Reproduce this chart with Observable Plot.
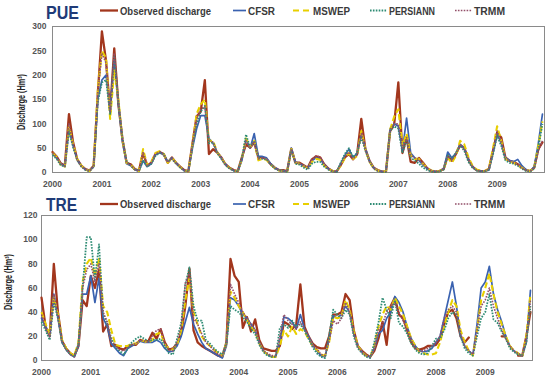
<!DOCTYPE html>
<html><head><meta charset="utf-8">
<script src="https://cdn.jsdelivr.net/npm/d3@7"></script>
<script src="https://cdn.jsdelivr.net/npm/@observablehq/plot@0.6"></script>
<style>
body{margin:0;background:#fff;}
#wrap{position:relative;width:550px;height:380px;overflow:hidden;background:#fff;}
.panel{position:absolute;left:0;width:550px;height:190px;}
#overlay{position:absolute;left:0;top:0;pointer-events:none;}
</style></head><body><div id="wrap"></div>
<script>
// ---- tick labels ----
const years = ["2000","2001","2002","2003","2004","2005","2006","2007","2008","2009"];
const pueTicks = [0, 50, 100, 150, 200, 250, 300];
const treTicks = [0, 20, 40, 60, 80, 100, 120];
const seriesNames = ["Observed discharge", "CFSR", "MSWEP", "PERSIANN", "TRMM"];
const panelTitles = ["PUE", "TRE"];
const yTitle = "Discharge (Hm³)";

// ---- PUE monthly discharge, Jan 2000 - Dec 2009 ----
const pueObserved = [
 42,33,19,14,120,62,27,14,7,4,14,160,
 290,230,125,255,140,68,20,17,7,4,40,14,
 20,38,42,38,20,31,20,12,5,3,60,115,
 125,190,38,48,41,31,17,10,5,3,31,58,
 51,62,31,31,27,17,10,5,5,3,49,20,
 20,15,10,27,33,31,17,8,3,2,15,31,
 38,27,38,110,48,24,10,5,2,2,85,100,
 185,40,72,22,20,30,20,9,3,2,3,7,
 34,24,38,56,51,27,12,5,3,3,7,45,
 82,72,31,24,22,17,10,5,3,10,48,62];
const pueCFSR = [
 38,30,18,13,88,55,27,14,6,3,12,150,
 190,200,130,230,140,62,18,14,6,3,24,12,
 18,36,42,36,22,30,20,11,4,2,50,90,
 117,117,70,60,42,30,17,9,4,2,25,68,
 50,80,33,33,30,18,10,5,4,2,50,22,
 18,14,9,24,30,28,16,8,3,2,18,35,
 48,30,40,78,50,24,10,4,2,2,90,100,
 95,45,112,40,30,25,15,8,4,2,3,8,
 42,30,40,58,50,28,12,5,3,3,5,40,
 80,60,30,25,22,27,14,6,2,12,60,120];
const pueMSWEP = [
 40,32,16,12,95,58,28,14,6,3,14,170,
 250,235,110,210,150,65,20,16,6,3,48,15,
 22,40,44,38,20,30,20,11,4,2,58,120,
 140,150,65,65,42,30,17,9,4,2,28,70,
 52,65,25,28,26,16,9,4,3,2,48,20,
 18,13,9,22,28,26,14,7,3,2,14,30,
 40,28,34,85,48,22,9,4,2,2,88,115,
 130,55,80,35,28,28,18,10,4,2,3,7,
 30,20,35,65,58,32,14,6,3,3,8,50,
 95,65,28,22,20,15,10,5,3,10,55,105];
const puePERSIANN = [
 36,28,15,12,85,52,25,12,5,3,12,145,
 185,190,120,240,145,70,22,14,6,3,25,12,
 18,34,40,38,22,28,18,10,4,2,55,100,
 125,137,60,62,40,28,15,8,4,2,30,78,
 52,65,30,28,27,16,8,4,3,2,46,18,
 16,10,6,18,22,22,12,6,2,1,20,38,
 50,32,40,72,45,22,8,3,1,1,85,95,
 90,40,68,30,25,18,10,5,2,1,2,6,
 35,28,40,55,45,22,10,4,2,2,6,38,
 75,55,25,20,18,14,8,3,2,8,50,100];
const pueTRMM = [
 40,31,17,13,100,58,27,13,6,3,13,165,
 245,225,125,245,145,66,20,15,6,3,42,14,
 20,38,42,37,21,30,19,11,4,2,58,110,
 130,135,65,62,42,30,16,9,4,2,28,65,
 50,64,28,30,28,17,9,4,3,2,48,20,
 18,14,9,26,34,32,16,8,3,2,16,32,
 42,28,36,80,48,23,9,4,2,2,88,100,
 100,50,72,35,30,27,18,9,4,2,3,7,
 33,25,38,58,48,28,12,5,3,3,7,45,
 85,62,28,24,20,16,10,5,3,10,45,65];

// ---- TRE monthly discharge, Jan 2000 - Dec 2009 ----
const treObserved = [
 52,28,20,80,40,16,10,6,4,12,50,45,
 70,60,75,24,30,12,13,10,9,12,13,13,
 17,16,16,23,18,26,15,9,10,14,22,45,
 76,25,15,12,10,8,6,4,3,15,84,70,
 65,27,36,24,34,17,10,9,8,8,12,32,
 30,26,30,63,28,20,14,11,10,10,20,38,
 38,40,55,50,25,12,8,5,3,8,18,32,
 13,45,52,38,35,25,15,10,9,10,12,12,
 13,18,30,40,42,35,20,15,19,null,null,null,
 null,null,null,null,20,20,null,null,4,4,20,40];
const treCFSR = [
 35,28,20,55,35,15,9,5,3,12,55,55,
 70,48,68,35,28,14,10,6,4,10,12,14,
 16,15,15,15,17,15,10,7,8,12,20,32,
 44,30,22,15,10,8,6,4,2,12,52,50,
 45,38,35,30,25,15,8,5,3,3,15,36,
 35,32,26,38,26,20,13,8,4,3,18,37,
 35,38,45,40,22,12,7,4,3,10,22,25,
 35,40,53,48,40,28,18,12,8,7,8,10,
 15,20,35,50,65,45,20,12,8,5,30,60,
 65,78,55,42,32,20,12,8,5,4,15,58];
const treMSWEP = [
 40,30,22,52,38,17,10,6,4,15,65,80,
 85,70,85,45,40,25,13,12,12,12,14,14,
 17,16,15,17,22,23,13,10,9,13,25,50,
 68,40,30,20,15,12,9,6,4,14,57,52,
 45,40,34,28,24,14,8,5,3,3,12,25,
 20,28,22,26,24,18,12,9,5,4,15,36,
 35,36,50,42,24,12,7,4,3,12,28,38,
 45,42,52,45,38,28,18,12,7,6,5,5,
 6,15,28,40,50,45,25,15,8,4,25,50,
 60,72,55,40,30,20,12,8,6,3,20,55];
const trePERSIANN = [
 32,25,17,48,35,15,9,5,3,14,60,102,
 102,67,96,39,30,18,11,8,5,10,15,18,
 20,18,16,17,17,18,12,6,5,18,31,63,
 77,45,33,33,17,14,10,7,5,14,45,42,
 40,36,32,26,22,13,7,4,3,3,27,30,
 27,33,28,30,25,18,11,6,3,2,20,42,
 38,35,42,38,20,10,6,3,2,15,31,52,
 42,35,50,31,28,22,14,9,6,5,6,12,
 18,18,25,35,40,38,20,10,6,4,20,35,
 40,55,34,31,24,18,10,7,5,4,15,45];
const treTRMM = [
 38,27,20,55,36,16,9,5,3,13,60,75,
 80,65,80,40,32,16,12,9,8,11,13,14,
 17,16,15,20,25,26,14,9,8,15,28,64,
 72,35,30,22,15,12,8,5,4,13,63,55,
 48,40,35,30,25,15,8,6,4,4,20,38,
 33,30,26,32,26,20,12,10,5,4,16,33,
 30,35,48,40,22,11,7,4,3,10,25,30,
 40,45,48,40,33,26,17,10,8,8,10,12,
 15,20,35,42,45,40,22,12,8,5,25,45,
 50,60,45,35,25,18,12,8,6,4,18,50];

// ---- styles ----
const styles = {
  "Observed discharge": {stroke: "#a2361d", strokeWidth: 2.3, dash: null},
  "CFSR": {stroke: "#3a62b0", strokeWidth: 1.7, dash: null},
  "MSWEP": {stroke: "#e8cf00", strokeWidth: 2.1, dash: "6,3"},
  "PERSIANN": {stroke: "#2f8c74", strokeWidth: 1.8, dash: "1.6,1.3"},
  "TRMM": {stroke: "#93506a", strokeWidth: 1.6, dash: "1.6,1.3"}
};

function rowsOf(arrays) {
  const rows = [];
  seriesNames.forEach((name, k) => {
    arrays[k].forEach((v, i) => rows.push({series: name, i, v}));
  });
  return rows;
}

const FONT = "'Liberation Sans', Arial, sans-serif";

function panel(arrays, cfg) {
  const rows = rowsOf(arrays);
  const marks = [Plot.frame({stroke: "#8a8a8a", strokeWidth: 1})];
  seriesNames.forEach(name => {
    const s = styles[name];
    marks.push(Plot.line(rows.filter(d => d.series === name), {
      x: "i", y: "v", stroke: s.stroke, strokeWidth: s.strokeWidth,
      strokeDasharray: s.dash, strokeLinejoin: "round", strokeLinecap: s.dash ? "butt" : "round"
    }));
  });
  return Plot.plot({
    width: 550, height: 190,
    marginLeft: cfg.ml, marginRight: cfg.mr, marginTop: cfg.mt, marginBottom: cfg.mb,
    style: {fontFamily: FONT, fontSize: "8.5px", fontWeight: "bold", color: "#555", background: "transparent", overflow: "visible"},
    x: {domain: [0, 119.5], ticks: years.map((y, k) => k * 12), tickFormat: i => years[i / 12], tickSize: 0, tickPadding: cfg.xpad, label: null},
    y: {domain: [0, cfg.ymax], ticks: cfg.ticks, tickSize: 0, tickPadding: cfg.ypad, label: null},
    marks
  });
}

const wrap = document.getElementById("wrap");
const top1 = panel([pueObserved, pueCFSR, pueMSWEP, puePERSIANN, pueTRMM],
  {ml: 52, mr: 6, mt: 26, mb: 18, ymax: 300, ticks: pueTicks, xpad: 8, ypad: 6});
top1.classList.add("panel"); top1.style.top = "0px";
wrap.appendChild(top1);
const bot1 = panel([treObserved, treCFSR, treMSWEP, trePERSIANN, treTRMM],
  {ml: 41, mr: 18, mt: 25, mb: 20, ymax: 120, ticks: treTicks, xpad: 8.5, ypad: 4});
bot1.classList.add("panel"); bot1.style.top = "190px";
wrap.appendChild(bot1);

// ---- overlay: titles, legends, axis titles ----
const svg = d3.select(wrap).append("svg").attr("id", "overlay")
  .attr("width", 550).attr("height", 380).style("font-family", FONT);

const legendPos = [
  {sx0: 100, sx1: 118, tx: 120, tw: 91},
  {sx0: 233, sx1: 246, tx: 248, tw: 27},
  {sx0: 293, sx1: 309, tx: 313, tw: 37},
  {sx0: 370, sx1: 387, tx: 389, tw: 46},
  {sx0: 455, sx1: 472, tx: 474, tw: 31}
];
const panelY = [
  {title: 18.5, ly: 10.5, lb: 14.5, axisX: 21, axisY: 102},
  {title: 211, ly: 204, lb: 208, axisX: 8.5, axisY: 282}
];
panelTitles.forEach((t, p) => {
  const P = panelY[p];
  svg.append("text").attr("x", 46).attr("y", P.title).text(t)
    .attr("font-size", 17.5).attr("font-weight", "bold").attr("fill", "#1f3b78")
    .attr("textLength", p === 0 ? 33 : 31).attr("lengthAdjust", "spacingAndGlyphs");
  seriesNames.forEach((name, k) => {
    const s = styles[name], L = legendPos[k];
    svg.append("line").attr("x1", L.sx0).attr("x2", L.sx1).attr("y1", P.ly).attr("y2", P.ly)
      .attr("stroke", s.stroke).attr("stroke-width", s.strokeWidth)
      .attr("stroke-dasharray", name === "MSWEP" ? "6,4" : s.dash);
    svg.append("text").attr("x", L.tx).attr("y", P.lb).text(name)
      .attr("font-size", 10.5).attr("font-weight", "bold").attr("fill", "#3a3a3a")
      .attr("textLength", L.tw).attr("lengthAdjust", "spacingAndGlyphs");
  });
  svg.append("text").attr("transform", `translate(${P.axisX},${P.axisY}) rotate(-90)`)
    .attr("text-anchor", "middle").attr("dominant-baseline", "central")
    .attr("font-size", 10).attr("font-weight", "bold").attr("fill", "#222")
    .attr("textLength", 56).attr("lengthAdjust", "spacingAndGlyphs").text(yTitle);
});
</script></body></html>
